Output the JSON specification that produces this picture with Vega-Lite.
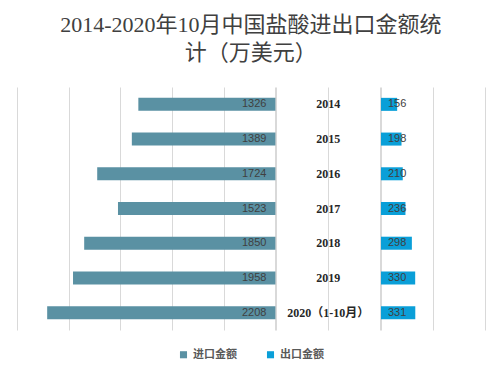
{
  "$schema": "https://vega.github.io/schema/vega-lite/v6.json",
  "padding": {"left": 17, "top": 14, "right": 20, "bottom": 5},
  "background": "white",
  "title": {
    "text": ["2014-2020年10月中国盐酸进出口金额统", "计（万美元）"],
    "font": "Liberation Serif, Noto Sans CJK SC",
    "fontSize": 22,
    "lineHeight": 28,
    "fontWeight": "normal",
    "color": "#404040",
    "anchor": "middle",
    "offset": 22
  },
  "data": {
    "values": [
      {"year": "2014", "import": 1326, "export": 156},
      {"year": "2015", "import": 1389, "export": 198},
      {"year": "2016", "import": 1724, "export": 210},
      {"year": "2017", "import": 1523, "export": 236},
      {"year": "2018", "import": 1850, "export": 298},
      {"year": "2019", "import": 1958, "export": 330},
      {"year": "2020（1-10月）", "import": 2208, "export": 331}
    ]
  },
  "spacing": 0,
  "config": {
    "view": {"stroke": null},
    "axis": {"grid": true, "gridColor": "#d9d9d9", "labels": false, "ticks": false, "domain": false, "title": null},
    "concat": {"spacing": 0}
  },
  "resolve": {"scale": {"color": "shared"}},
  "hconcat": [
    {
      "width": 258.4,
      "height": 243,
      "layer": [
        {
          "mark": {"type": "bar"},
          "encoding": {
            "y": {"field": "year", "type": "nominal", "sort": null, "axis": null, "scale": {"paddingInner": 0.625, "paddingOuter": 0.3125}},
            "x": {"field": "import", "type": "quantitative", "scale": {"domain": [0, 2500], "reverse": true, "nice": false}, "axis": {"values": [0, 500, 1000, 1500, 2000, 2500]}},
            "color": {
              "datum": "进口金额",
              "type": "nominal",
              "scale": {"domain": ["进口金额", "出口金额"], "range": ["#5A91A3", "#0A9FD8"]},
              "legend": {
                "orient": "none",
                "legendX": 161,
                "legendY": 262,
                "title": null,
                "direction": "horizontal",
                "symbolType": "square",
                "symbolSize": 50,
                "labelFont": "Noto Sans CJK SC",
                "labelFontSize": 11,
                "labelFontWeight": "bold",
                "labelColor": "#595959",
                "columnPadding": 28
              }
            }
          }
        },
        {
          "mark": {"type": "text", "align": "right", "dx": -9, "fontSize": 11, "font": "Liberation Sans", "color": "#404040"},
          "encoding": {
            "y": {"field": "year", "type": "nominal", "sort": null, "axis": null, "scale": {"paddingInner": 0.625, "paddingOuter": 0.3125}},
            "x": {"datum": 0, "type": "quantitative"},
            "text": {"field": "import", "type": "quantitative"}
          }
        }
      ]
    },
    {
      "width": 104.3,
      "height": 243,
      "mark": {"type": "text", "align": "center", "fontSize": 12, "fontWeight": "bold", "font": "Liberation Serif, Noto Sans CJK SC", "color": "#262626"},
      "encoding": {
        "y": {"field": "year", "type": "nominal", "sort": null, "axis": null, "scale": {"paddingInner": 0.625, "paddingOuter": 0.3125}},
        "x": {"datum": 500, "type": "quantitative", "scale": {"domain": [0, 1000], "nice": false}, "axis": {"values": [0, 500, 1000]}},
        "text": {"field": "year", "type": "nominal"}
      }
    },
    {
      "width": 103.6,
      "height": 243,
      "layer": [
        {
          "mark": {"type": "bar"},
          "encoding": {
            "y": {"field": "year", "type": "nominal", "sort": null, "axis": null, "scale": {"paddingInner": 0.625, "paddingOuter": 0.3125}},
            "x": {"field": "export", "type": "quantitative", "scale": {"domain": [0, 1000], "nice": false}, "axis": {"values": [0, 500, 1000]}},
            "color": {"datum": "出口金额", "type": "nominal"}
          }
        },
        {
          "mark": {"type": "text", "align": "left", "dx": 7, "fontSize": 11, "font": "Liberation Sans", "color": "#404040"},
          "encoding": {
            "y": {"field": "year", "type": "nominal", "sort": null, "axis": null, "scale": {"paddingInner": 0.625, "paddingOuter": 0.3125}},
            "x": {"datum": 0, "type": "quantitative"},
            "text": {"field": "export", "type": "quantitative"}
          }
        }
      ]
    }
  ]
}
